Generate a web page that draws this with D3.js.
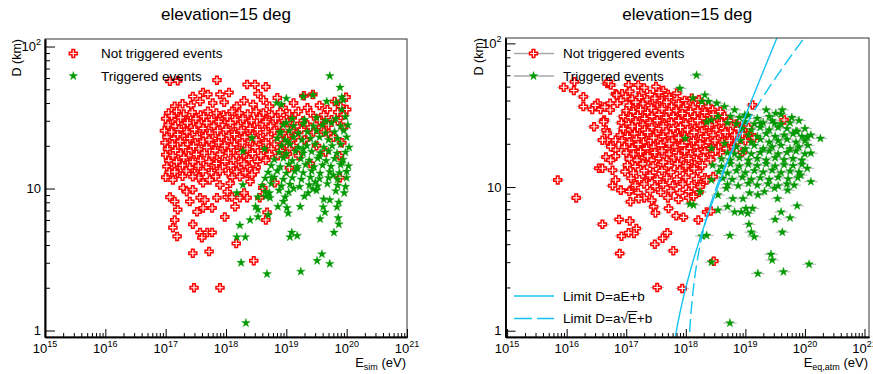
<!DOCTYPE html>
<html>
<head>
<meta charset="utf-8">
<script src="https://cdn.jsdelivr.net/npm/d3@7"></script>
<style>
  body { margin: 0; background: #fff; }
  svg text { font-family: 'Liberation Sans', Arial, Helvetica, sans-serif; fill: #000; }
</style>
</head>
<body>
<div id="chart"></div>
<script>
// every point is [log10(E / eV), D (km)]
const simNotTrig = [
  [17.07,57],[17.20,57.5],[17.85,58],[18.35,54],[18.48,54],[18.66,52],
  [17.45,44.5],[17.62,47.5],[17.70,46],[17.90,46],[18.05,47.5],[18.53,46.5],[18.85,43.5],[19.29,45],[19.44,46],[19.80,41],[19.99,44],[20.00,36],
  [17.15,38],[17.28,39.5],[17.42,38.5],[17.57,41],[17.78,40],[17.97,40.5],[18.18,38],[18.30,41.5],[18.45,39],[18.62,42],[18.72,38],[18.95,37],[19.12,40],[19.35,37],[19.55,38.5],[19.68,36],[19.90,38],[19.95,33],
  [17.05,34],[17.18,35],[17.30,33.5],[17.44,34.5],[17.58,33],[17.70,35],[17.84,34],[17.96,33],[18.10,35],[18.22,34],[18.36,33.5],[18.50,35],[18.62,34],[18.76,33],[18.90,34.5],[19.05,33.5],[19.20,35],[19.40,34],[19.62,33],[19.85,34.5],
  [17.00,31],[17.12,30.5],[17.25,31.5],[17.37,30],[17.50,31],[17.63,32],[17.76,30.5],[17.90,31],[18.02,32],[18.15,30.5],[18.28,31],[18.42,30],[18.56,31.5],[18.68,30.5],[18.82,31],[18.96,30],[19.10,31.5],[19.28,30],[19.50,31],[19.75,30.5],
  [17.04,28],[17.16,27.5],[17.30,28.5],[17.42,27],[17.55,28],[17.68,29],[17.80,27.5],[17.94,28],[18.07,29],[18.20,27.5],[18.34,28],[18.47,27],[18.60,28.5],[18.74,27.5],[18.88,28],[19.02,29],[19.18,27.5],[19.35,28],[19.58,27],
  [16.98,25.5],[17.10,25],[17.22,26],[17.35,25],[17.48,26],[17.60,25.5],[17.73,24.5],[17.86,25.5],[18.00,26],[18.12,25],[18.25,25.5],[18.39,24.5],[18.52,26],[18.66,25],[18.80,25.5],[18.94,24.5],[19.08,25.5],[19.25,26],[19.45,25],[19.70,24.5],
  [17.02,23],[17.14,22.5],[17.27,23.5],[17.40,22.5],[17.52,23],[17.66,23.5],[17.78,22.5],[17.92,23],[18.05,23.5],[18.18,22.5],[18.31,23],[18.44,23.5],[18.57,22.5],[18.70,23],[18.85,23.5],[19.00,22.5],[19.15,23],[19.32,22],
  [16.99,21],[17.11,20.5],[17.24,21.5],[17.36,20.5],[17.49,21],[17.62,21.5],[17.75,20.5],[17.88,21],[18.01,21.5],[18.14,20.5],[18.27,21],[18.40,21.5],[18.53,20.5],[18.66,21],[18.80,20.5],[18.96,21],[19.12,20],
  [17.03,19],[17.16,18.5],[17.29,19.5],[17.42,18.5],[17.55,19],[17.68,19.5],[17.82,18.5],[17.95,19],[18.08,19.5],[18.22,18.5],[18.35,19],[18.48,19.5],[18.62,18.5],[18.75,19],[18.90,18.5],[19.05,19],
  [17.00,17.3],[17.12,17],[17.25,17.6],[17.38,17],[17.51,17.4],[17.64,17.8],[17.77,17],[17.90,17.4],[18.04,17.8],[18.17,17],[18.30,17.3],[18.44,17.6],[18.58,17],[18.72,17.4],[18.86,17],[19.02,17.5],
  [17.05,15.7],[17.18,15.4],[17.32,16],[17.45,15.4],[17.58,15.8],[17.72,15.4],[17.85,16],[17.98,15.5],[18.12,15.8],[18.25,15.4],[18.38,16],[18.52,15.5],[18.66,15.8],
  [17.02,14.3],[17.14,14],[17.28,14.6],[17.40,14],[17.54,14.4],[17.67,14.1],[17.80,14.6],[17.94,14.2],[18.08,14.5],[18.21,14],[18.35,14.4],[18.50,14.1],
  [17.06,13],[17.20,12.8],[17.34,13.3],[17.48,12.8],[17.62,13.2],[17.76,12.9],[17.90,13.3],[18.04,12.8],[18.18,13.1],[18.32,12.9],[18.48,13.2],
  [17.00,12],[17.28,12.2],[17.55,11.9],[17.83,12.1],[18.10,12],[18.40,12.2],
  [19.55,30],[19.70,28],[19.85,30],[19.95,27],[19.62,25],[19.78,23],[19.92,21],[19.40,27],[19.30,22],[19.50,20],[19.88,17],[19.65,18],[19.20,17],[19.40,15],[19.05,14],[19.89,11.9],
  [17.07,8.7],[17.15,8.1],[17.20,7.1],[17.15,6.0],[17.12,5.3],[17.19,4.6],[17.45,5.6],[17.57,4.9],[17.69,4.9],[17.77,4.9],[17.60,4.5],[17.45,3.5],[17.72,3.6],
  [18.17,4.1],[18.46,3.1],[17.47,2.0],[17.90,2.0],[18.66,6.0],[18.68,6.8],[18.61,10.1],[18.56,8.6],[18.81,11.0],[18.15,7.45],[17.98,6.3],[17.52,6.85],
  [17.62,7.3],[17.77,7.3],[17.40,8.1],[17.57,8.6],[17.65,8.3],[17.85,8.6],[18.02,8.7],[18.10,8.7],[18.23,8.6],[18.35,8.6],[18.02,9.5],[17.90,10.6],
  [18.07,10.9],[18.23,12.1],[18.40,11.2],[18.43,12.5],[17.45,12.1],[17.62,11.0],[17.73,11.5],[17.29,10.1],[17.35,9.5],[17.45,9.8],[17.12,11.5],[17.15,13.1],[18.30,9.3],
  [17.10,32.5],[17.36,29],[17.62,26.5],[17.88,29.5],[18.14,24],[18.40,26.5],[18.66,29.5],[17.20,24],[17.46,19.8],[17.72,22],[17.98,20],[18.24,17.8],[18.50,22],[17.30,16.5],[17.84,15],[18.30,14.9]
];

const simTrig = [
  [19.72,62],[19.89,51.5],[19.92,44],[19.00,43],[19.44,45.5],[18.92,39],[19.83,40.3],[19.92,36],[18.84,40],[19.28,44.5],[19.67,41],[19.94,42],
  [19.00,29],[18.43,22.7],[18.28,18.3],[18.64,19],[18.90,24.5],
  [19.10,31],[19.30,30.5],[19.50,31.5],[19.65,30],[19.82,31],[19.98,32],
  [18.95,28],[19.12,27.5],[19.28,28.5],[19.45,27.5],[19.60,28],[19.75,29],[19.90,27.5],[20.02,28],
  [18.90,25],[19.05,25.5],[19.20,24.5],[19.35,25],[19.50,25.5],[19.65,24.5],[19.80,25],[19.95,25.5],
  [18.85,22.5],[18.98,22],[19.12,23],[19.26,22],[19.40,22.5],[19.55,23],[19.70,22],[19.85,22.5],[20.00,23],
  [18.92,20],[19.06,20.5],[19.20,19.5],[19.34,20],[19.48,20.5],[19.62,19.5],[19.76,20],[19.90,20.5],[20.04,19.5],
  [18.88,18],[19.00,17.6],[19.15,18.3],[19.28,17.7],[19.42,18.2],[19.56,17.8],[19.70,18.3],[19.84,17.7],[19.98,18],
  [18.80,16],[18.95,16.4],[19.10,15.7],[19.24,16.2],[19.38,15.8],[19.52,16.3],[19.66,15.7],[19.80,16.2],[19.94,16],
  [18.75,14.5],[18.90,14.2],[19.04,14.8],[19.18,14.3],[19.32,14.7],[19.46,14.2],[19.60,14.6],[19.74,14.3],[19.90,14.7],[20.03,14.4],
  [18.70,13],[18.85,13.3],[19.00,12.8],[19.14,13.2],[19.28,12.9],[19.42,13.3],[19.56,12.8],[19.72,13.1],[19.88,12.9],[20.00,13.2],
  [18.65,11.8],[18.80,12],[18.95,11.6],[19.10,11.9],[19.25,11.6],[19.40,12],[19.55,11.7],[19.70,11.9],[19.85,11.6],[20.00,11.9],
  [18.60,10.5],[18.75,10.8],[18.92,10.4],[19.06,10.7],[19.22,10.3],[19.38,10.6],[19.52,10.4],[19.68,10.8],[19.85,10.5],[19.98,10.3],
  [18.72,9.3],[18.88,9.7],[19.04,9.4],[19.36,9.3],[19.50,9.7],[19.82,9.6],[19.96,9.3],
  [18.66,8.8],[18.98,8.7],[19.30,8.8],[19.62,8.4],
  [18.23,5.5],[18.18,4.55],[18.32,4.55],[18.18,9.3],[18.28,10.6],[18.49,7.45],[18.53,7.1],[18.40,6.0],[18.53,6.3],[18.70,6.5],[18.53,8.7],[18.65,9.5],
  [18.76,11.9],[18.73,8.6],[18.86,7.45],[18.95,8.1],[19.01,7.3],[19.03,6.7],[19.23,7.45],[19.56,6.1],[19.61,7.4],[19.64,6.8],[19.72,8.3],[19.87,8.0],
  [19.84,7.4],[19.86,6.2],[19.87,5.6],[19.79,4.9],[19.09,4.9],[19.18,4.65],[19.06,4.55],
  [18.25,3.0],[18.68,2.5],[18.33,1.13],[19.24,2.6],[19.51,3.1],[19.59,3.45],[19.72,2.95],
  [19.02,21.2],[19.28,19],[19.55,16.9],[19.18,13.8],[19.48,11.1],[19.78,12.4],[19.12,10],[19.44,9.9],[19.92,15.2]
];

const eqNotTrig = [
  [15.95,49.5],[16.12,47],[16.13,54],[16.28,42.5],[16.28,36.3],[16.52,38.3],[16.43,34.7],[16.57,34.7],[16.68,52.5],[16.74,51.3],[16.82,44.6],[16.93,44.6],
  [16.99,42.5],[16.91,40.3],[16.85,38.3],[17.04,51.3],[17.20,51.3],[16.63,29.3],[16.66,24.9],[16.68,21.2],[16.82,21.2],[16.82,18.1],[16.82,16.4],[16.70,54],
  [17.06,46.4],[16.84,43.7],[16.73,38.3],[16.48,37],[16.64,36],[16.73,34.4],[16.62,28.5],[16.46,26.3],[16.60,21.2],[16.68,23.7],[16.74,19.1],[16.66,16.2],
  [16.54,13.5],[16.74,15.4],[16.77,13.1],[16.82,11.2],[16.91,9.5],[17.07,9.5],
  [17.30,49],[17.50,50],[17.62,47],[17.25,45],[17.40,44],[17.55,45.5],[17.70,44],[17.85,45],
  [17.10,41],[17.22,42],[17.35,40.5],[17.48,41.5],[17.60,40],[17.72,42],[17.85,41],[17.98,40],[18.10,41.5],[18.22,40.5],
  [17.05,37],[17.16,36.5],[17.28,38],[17.40,37],[17.52,36],[17.64,37.5],[17.76,36.5],[17.88,38],[18.00,37],[18.12,36],[18.25,37.5],[18.38,36.5],
  [17.00,34],[17.12,33.5],[17.24,34.5],[17.36,33],[17.48,34],[17.60,35],[17.72,33.5],[17.84,34],[17.96,35],[18.08,33.5],[18.20,34],[18.32,33],[18.45,34.5],[18.58,33.5],
  [16.95,31],[17.07,30.5],[17.19,31.5],[17.31,30],[17.43,31],[17.55,32],[17.67,30.5],[17.79,31],[17.91,32],[18.03,30.5],[18.15,31],[18.27,30],[18.40,31.5],[18.52,30.5],[18.65,31],
  [16.92,28],[17.04,27.5],[17.16,28.5],[17.28,27],[17.40,28],[17.52,29],[17.64,27.5],[17.76,28],[17.88,29],[18.00,27.5],[18.12,28],[18.24,27],[18.36,28.5],[18.48,27.5],[18.60,28],[18.72,29],[18.85,27.5],
  [16.95,25.5],[17.07,25],[17.19,26],[17.31,25],[17.43,26],[17.55,25.5],[17.67,24.5],[17.79,25.5],[17.91,26],[18.03,25],[18.15,25.5],[18.27,24.5],[18.39,26],[18.51,25],[18.63,25.5],[18.75,24.5],[18.88,25.5],[19.00,26],
  [16.90,23],[17.02,22.5],[17.14,23.5],[17.26,22.5],[17.38,23],[17.50,23.5],[17.62,22.5],[17.74,23],[17.86,23.5],[17.98,22.5],[18.10,23],[18.22,23.5],[18.34,22.5],[18.46,23],[18.58,23.5],[18.70,22.5],[18.82,23],[18.95,23.5],[19.08,22.5],
  [16.93,21],[17.05,20.5],[17.17,21.5],[17.29,20.5],[17.41,21],[17.53,21.5],[17.65,20.5],[17.77,21],[17.89,21.5],[18.01,20.5],[18.13,21],[18.25,21.5],[18.37,20.5],[18.49,21],[18.61,20.5],[18.73,21],[18.86,20.5],[19.00,21],
  [16.97,19],[17.10,18.5],[17.22,19.5],[17.34,18.5],[17.46,19],[17.58,19.5],[17.70,18.5],[17.82,19],[17.94,19.5],[18.06,18.5],[18.18,19],[18.30,19.5],[18.42,18.5],[18.55,19],[18.68,18.5],[18.80,19],
  [17.00,17.3],[17.12,17],[17.24,17.6],[17.36,17],[17.48,17.4],[17.60,17.8],[17.72,17],[17.84,17.4],[17.96,17.8],[18.08,17],[18.20,17.3],[18.32,17.6],[18.45,17],[18.58,17.4],
  [17.05,15.7],[17.18,15.4],[17.30,16],[17.42,15.4],[17.55,15.8],[17.68,15.4],[17.80,16],[17.92,15.5],[18.05,15.8],[18.18,15.4],[18.30,16],[18.42,15.5],
  [17.02,14.2],[17.15,13.9],[17.28,14.5],[17.45,14],[17.58,14.4],[17.72,14.1],[17.86,14.5],[18.00,14],[18.15,14.3],[18.28,14.1],
  [16.98,12.8],[17.12,12.5],[17.30,13],[17.45,12.6],[17.60,13],[17.75,12.7],[17.90,13.1],[18.05,12.6],[18.20,12.9],
  [17.08,11.5],[17.22,11.3],[17.38,11.7],[17.52,11.3],[17.68,11.6],[17.85,11.3],[18.00,11.7],[18.18,11.4],[18.32,11.6],
  [17.15,10.3],[17.30,10.5],[17.48,10.1],[17.62,10.4],[17.78,10.2],[17.95,10.5],[18.10,10.2],[18.25,10.4],
  [17.05,9.3],[17.20,9.1],[17.40,9.4],[17.58,9.2],[17.75,9.4],[17.90,9.1],[18.05,9.3],[18.22,9.2],
  [17.30,8.4],[17.70,8.4],[17.88,8.2],[18.05,8.4],
  [15.85,11.2],[16.16,8.4],[16.60,13.5],[16.77,10.2],[16.91,9.5],[16.60,5.5],[16.88,5.95],[17.06,5.8],[17.17,5.15],[17.13,4.75],[17.04,4.8],[16.92,4.55],
  [16.89,3.45],[17.48,4.0],[17.61,4.4],[17.69,4.8],[17.79,3.6],[17.52,2.0],[17.94,1.97],[18.47,3.05],[18.21,5.9],[18.35,6.7],[18.42,6.8],[17.46,7.3],
  [17.49,6.6],[17.71,7.1],[17.84,6.3],[17.96,6.15],[17.07,7.9],[17.21,8.3],[17.43,8.1],[19.12,37.2],[19.65,29.3],[19.05,26],[19.15,22],[18.95,17.5],
  [18.24,10.0],[18.35,11.2],[18.46,11.8],[18.13,8.6],
  [17.16,39],[17.42,35.5],[17.68,39],[17.94,32.5],[18.20,29],[18.46,32],[17.10,26.5],[17.36,24],[17.62,26.5],[17.88,22],[18.14,24],[18.40,27],[18.66,24],
  [17.20,19.8],[17.46,22],[17.72,20],[17.98,17.8],[18.24,20],[18.50,17.8],[17.36,16.4],[17.62,14.9],[17.88,16.5],[18.14,13.4],[17.40,12]
];

const eqTrig = [
  [18.18,60],[17.90,48.6],[18.32,43.7],[18.12,41.6],[18.27,39.4],[18.38,39.4],[18.52,38.3],[18.65,36.3],[18.82,34.4],[18.99,31.7],[19.35,34.4],[19.51,32.6],
  [19.62,34.4],[19.26,27.7],[19.49,27.7],[19.87,24.3],[20.04,22.3],[20.26,21.8],[20.10,17.2],[17.99,21.8],[18.35,28.4],[18.43,18.6],[18.65,20.1],
  [18.43,29.3],[18.54,31],
  [18.75,31],[18.90,30.5],[19.05,31.5],[19.20,30],[19.40,31],[19.60,32],[19.78,30.5],
  [18.70,28],[18.85,27.5],[19.00,28.5],[19.15,27.5],[19.30,28],[19.45,29],[19.60,27.5],[19.75,28],[19.90,29],
  [18.95,25.5],[19.10,25],[19.25,26],[19.40,25],[19.55,26],[19.70,25.5],[19.85,24.5],[20.00,25.5],
  [19.05,23],[19.20,22.5],[19.35,23.5],[19.50,22.5],[19.65,23],[19.80,23.5],[19.95,22.5],[20.10,23],
  [18.92,21],[19.10,20.5],[19.25,21.5],[19.40,20.5],[19.55,21],[19.70,21.5],[19.85,20.5],[20.00,21],
  [18.85,19],[19.00,18.5],[19.15,19.5],[19.30,18.5],[19.45,19],[19.60,19.5],[19.75,18.5],[19.90,19],[20.05,19.5],
  [18.70,17.3],[18.82,17],[18.96,17.6],[19.10,17],[19.25,17.4],[19.40,17.8],[19.55,17],[19.70,17.4],[19.85,17.8],[20.00,17],
  [18.60,15.7],[18.75,15.4],[18.90,16],[19.05,15.4],[19.20,15.8],[19.35,15.4],[19.50,16],[19.65,15.5],[19.80,15.8],[19.95,15.4],
  [18.45,14.2],[18.60,13.9],[18.75,14.5],[18.90,14],[19.05,14.4],[19.20,14.1],[19.35,14.5],[19.50,14],[19.65,14.3],[19.80,14.1],[19.95,14.4],
  [18.55,12.8],[18.70,12.5],[18.85,13],[19.00,12.6],[19.15,13],[19.30,12.7],[19.45,13.1],[19.60,12.6],[19.75,12.9],[19.90,12.7],
  [18.62,11.5],[18.78,11.3],[18.95,11.7],[19.10,11.3],[19.25,11.6],[19.40,11.3],[19.55,11.7],[19.72,11.4],[19.88,11.6],
  [18.70,10.4],[18.88,10.2],[19.05,10.6],[19.20,10.3],[19.38,10.5],[19.55,10.2],[19.70,10.5],
  [18.74,4.6],[18.27,4.55],[18.35,4.6],[18.43,3.0],[19.21,2.5],[19.43,3.4],[19.45,3.1],[19.64,2.57],[20.07,2.9],[18.74,1.13],[19.06,5.5],[19.10,4.85],
  [19.15,4.5],[19.62,4.85],[19.75,6.1],[19.87,7.4],[19.50,5.95],[19.60,6.7],[18.54,6.9],[18.70,7.3],[18.82,6.7],[18.93,6.7],[19.04,6.55],[19.12,7.1],
  [18.24,9.25],[18.13,7.5],[18.07,7.6],[18.43,11.2],[18.54,8.8],[18.68,9.8],[18.79,8.3],[18.96,8.3],[19.01,7.1],[19.07,9.1],[19.21,8.8],[19.32,9.3],
  [19.49,9.8],[19.54,8.3],[19.71,9.5],[19.82,10.3],[19.93,12.1],[20.04,13.5],[20.10,10.9]
];

const titles = ['elevation=15 deg', 'elevation=15 deg'];
const seriesNames = ['Not triggered events', 'Triggered events'];
const limitNames = ['Limit D=aE+b', 'Limit D=a', 'E', '+b'];
const xMajorExp = [15, 16, 17, 18, 19, 20, 21];
const yMajorTicks = [1, 10, 100];
const yMajorLabels = [['1', ''], ['10', ''], ['10', '2']];
// D = a*E + b and D = a*sqrt(E) + b, E in eV
const linLimit = {a: 3.26e-18, b: -1.27};
const sqrtLimit = {a: 1.23e-8, b: -12.27};
const eqErrFactor = 1.3;

const width = 873, height = 374;
const red = '#ff0000', green = '#009900', cyan = '#14c3f2';

const svg = d3.select('#chart')
  .append('svg')
  .attr('width', width)
  .attr('height', height);

svg.append('rect').attr('width', width).attr('height', height).attr('fill', '#fff');

const crossPath = 'M-1.3,-4H1.3V-1.3H4V1.3H1.3V4H-1.3V1.3H-4V-1.3H-1.3Z';
const starPath = d3.symbol(d3.symbolStar, 23)();

const panels = [
  {left: 45, right: 407, top: 39, bottom: 337, xDomain: [1e15, 1e21], yDomain: [0.9, 113],
    notTrig: simNotTrig, trig: simTrig, sub: 'sim', yTitleX: 21, errors: false, legendLines: false},
  {left: 505.5, right: 869, top: 38, bottom: 337, xDomain: [9.4e14, 1.19e21], yDomain: [0.904, 109],
    notTrig: eqNotTrig, trig: eqTrig, sub: 'eq,atm', yTitleX: 483, errors: true, legendLines: true}
];

function drawCross(g, x, y) {
  g.append('path').attr('d', crossPath)
    .attr('transform', `translate(${x},${y})`)
    .attr('fill', '#fff').attr('stroke', red).attr('stroke-width', 1.5);
}

function drawStar(g, x, y) {
  g.append('path').attr('d', starPath)
    .attr('transform', `translate(${x},${y})`)
    .attr('fill', green).attr('stroke', green).attr('stroke-width', 0.4);
}

panels.forEach((p, i) => {
  const x = d3.scaleLog().domain(p.xDomain).range([p.left, p.right]);
  const y = d3.scaleLog().domain(p.yDomain).range([p.bottom, p.top]);
  const g = svg.append('g');

  const clipId = 'clip' + i;
  g.append('clipPath').attr('id', clipId)
    .append('rect')
    .attr('x', p.left).attr('y', p.top)
    .attr('width', p.right - p.left).attr('height', p.bottom - p.top);

  // title
  g.append('text')
    .attr('x', (p.left + p.right) / 2).attr('y', 20)
    .attr('text-anchor', 'middle')
    .style('font-size', '17px')
    .text(titles[i]);

  // error bars (second panel only)
  if (p.errors) {
    const bars = g.append('g').attr('stroke', '#b4b4b4').attr('stroke-width', 1);
    p.notTrig.concat(p.trig).forEach(d => {
      const e = Math.pow(10, d[0]);
      bars.append('line')
        .attr('x1', x(e / eqErrFactor)).attr('x2', x(e * eqErrFactor))
        .attr('y1', y(d[1])).attr('y2', y(d[1]));
    });
  }

  const marks = g.append('g').attr('clip-path', `url(#${clipId})`);
  p.notTrig.forEach(d => drawCross(marks, x(Math.pow(10, d[0])), y(d[1])));
  p.trig.forEach(d => drawStar(marks, x(Math.pow(10, d[0])), y(d[1])));

  // limit curves (second panel only)
  if (p.legendLines) {
    const lgE = d3.range(17.5, 21.1, 0.004);
    const line = d3.line().x(d => x(d[0])).y(d => y(d[1]));
    const lin = lgE.map(v => [Math.pow(10, v), linLimit.a * Math.pow(10, v) + linLimit.b])
      .filter(d => d[1] > 0.5);
    const sq = lgE.map(v => [Math.pow(10, v), sqrtLimit.a * Math.sqrt(Math.pow(10, v)) + sqrtLimit.b])
      .filter(d => d[1] > 0.5);
    const curves = g.append('g').attr('clip-path', `url(#${clipId})`)
      .attr('fill', 'none').attr('stroke', cyan).attr('stroke-width', 1.4);
    curves.append('path').attr('d', line(lin));
    curves.append('path').attr('d', line(sq)).attr('stroke-dasharray', '13,5');
  }

  // axes
  const xMinor = [];
  const xMajor = xMajorExp.map(k => Math.pow(10, k));
  xMajorExp.forEach(k => {
    for (let m = 2; m <= 9; m++) {
      const v = m * Math.pow(10, k);
      if (v <= p.xDomain[1]) xMinor.push(v);
    }
  });
  const yMinor = [];
  [0.1, 1, 10].forEach(k => {
    for (let m = 2; m <= 9; m++) {
      const v = m * k;
      if (v >= p.yDomain[0] && v <= p.yDomain[1]) yMinor.push(v);
    }
  });

  g.append('rect')
    .attr('x', p.left).attr('y', p.top)
    .attr('width', p.right - p.left).attr('height', p.bottom - p.top)
    .attr('fill', 'none').attr('stroke', '#333').attr('stroke-width', 1);

  const gxMinor = g.append('g').attr('transform', `translate(0,${p.bottom})`)
    .call(d3.axisBottom(x).tickValues(xMinor).tickSize(-4).tickSizeOuter(0).tickFormat(''));
  const gxMajor = g.append('g').attr('transform', `translate(0,${p.bottom})`)
    .call(d3.axisBottom(x).tickValues(xMajor).tickSize(-8).tickSizeOuter(0).tickFormat(''));
  const gyMinor = g.append('g').attr('transform', `translate(${p.left},0)`)
    .call(d3.axisLeft(y).tickValues(yMinor).tickSize(-5).tickSizeOuter(0).tickFormat(''));
  const gyMajor = g.append('g').attr('transform', `translate(${p.left},0)`)
    .call(d3.axisLeft(y).tickValues(yMajorTicks).tickSize(-10).tickSizeOuter(0).tickFormat(''));
  [gxMinor, gxMajor, gyMinor, gyMajor].forEach(a => {
    a.selectAll('.domain').attr('stroke', '#000').attr('stroke-width', 1.6);
    a.selectAll('.tick line').attr('stroke', '#000').attr('stroke-width', 1);
  });

  // x tick labels 10^k
  xMajorExp.forEach(k => {
    const t = g.append('text')
      .attr('x', x(Math.pow(10, k))).attr('y', 353)
      .attr('text-anchor', 'middle')
      .style('font-size', '13px');
    t.append('tspan').text('10');
    t.append('tspan').attr('dy', -6).style('font-size', '9px').text(k);
  });

  // y tick labels
  yMajorTicks.forEach((v, j) => {
    const t = g.append('text')
      .attr('x', p.left - 4).attr('y', y(v) + 4.5)
      .attr('text-anchor', 'end')
      .style('font-size', '13px');
    t.append('tspan').text(yMajorLabels[j][0]);
    if (yMajorLabels[j][1]) t.append('tspan').attr('dy', -6).style('font-size', '9px').text(yMajorLabels[j][1]);
  });

  // axis titles
  const xt = g.append('text')
    .attr('x', p.right - 1).attr('y', 367)
    .attr('text-anchor', 'end')
    .style('font-size', '13px');
  xt.append('tspan').text('E');
  xt.append('tspan').attr('dy', 3).style('font-size', '9px').text(p.sub);
  xt.append('tspan').attr('dy', -3).text(' (eV)');

  g.append('text')
    .attr('transform', `translate(${p.yTitleX},${p.top}) rotate(-90)`)
    .attr('text-anchor', 'end')
    .style('font-size', '12.5px')
    .text('D (km)');

  // legend
  const lx = p.legendLines ? 533.5 : 73.3;
  const tx = p.legendLines ? 563 : 101;
  [53.5, 76].forEach((ly, j) => {
    if (p.legendLines) {
      g.append('line').attr('x1', 514).attr('x2', 554).attr('y1', ly).attr('y2', ly)
        .attr('stroke', '#a8a8a8').attr('stroke-width', 1.4);
    }
    if (j === 0) drawCross(g, lx, ly); else drawStar(g, lx, ly);
    g.append('text').attr('x', tx).attr('y', ly + 4.5)
      .style('font-size', '13.5px')
      .text(seriesNames[j]);
  });

  if (p.legendLines) {
    g.append('line').attr('x1', 514).attr('x2', 554).attr('y1', 296).attr('y2', 296)
      .attr('stroke', cyan).attr('stroke-width', 1.4);
    g.append('line').attr('x1', 514).attr('x2', 554).attr('y1', 318.5).attr('y2', 318.5)
      .attr('stroke', cyan).attr('stroke-width', 1.4).attr('stroke-dasharray', '18,5');
    g.append('text').attr('x', 563).attr('y', 300.5).style('font-size', '13.5px').text(limitNames[0]);

    // D=a sqrt(E)+b with a bar over E
    let cx = 563;
    const by = 323;
    const t1 = g.append('text').attr('x', cx).attr('y', by).style('font-size', '13.5px').text(limitNames[1]);
    cx += t1.node().getComputedTextLength();
    const t2 = g.append('text').attr('x', cx).attr('y', by).style('font-size', '13.5px').text('\u221A');
    cx += t2.node().getComputedTextLength();
    const t3 = g.append('text').attr('x', cx).attr('y', by).style('font-size', '13.5px').text(limitNames[2]);
    const w3 = t3.node().getComputedTextLength();
    g.append('line').attr('x1', cx - 0.5).attr('x2', cx + w3 + 0.5)
      .attr('y1', by - 11.5).attr('y2', by - 11.5)
      .attr('stroke', '#000').attr('stroke-width', 0.9);
    cx += w3;
    g.append('text').attr('x', cx).attr('y', by).style('font-size', '13.5px').text(limitNames[3]);
  }
});
</script>
</body>
</html>
